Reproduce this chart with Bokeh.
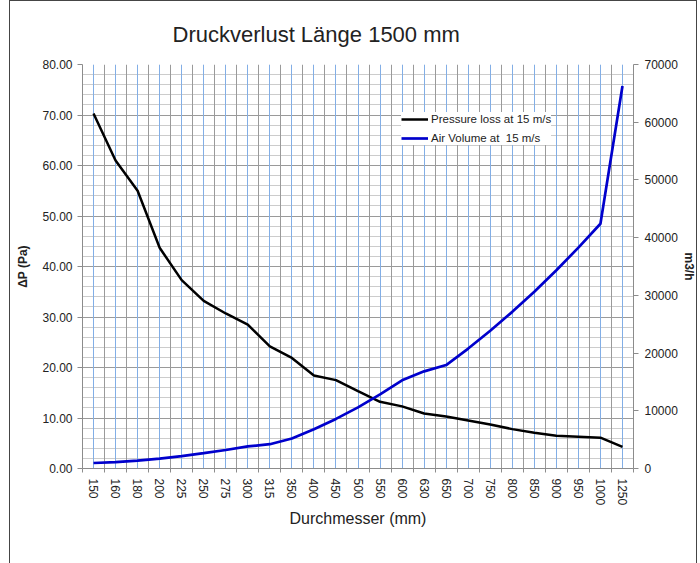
from bokeh.plotting import figure
from bokeh.models import (Range1d, FactorRange, LinearAxis, FixedTicker, SingleIntervalTicker,
                          Grid, NumeralTickFormatter, Title, Legend, LinearScale)
from bokeh.embed import file_html
from bokeh.resources import INLINE

# ---- data ----
diameters = ["150", "160", "180", "200", "225", "250", "275", "300", "315", "350", "400", "450",
             "500", "550", "600", "630", "650", "700", "750", "800", "850", "900", "950", "1000", "1250"]
pressure_loss = [70.3, 61.0, 55.0, 43.7, 37.3, 33.2, 30.7, 28.5, 24.2, 21.9, 18.4, 17.5,
                 15.3, 13.2, 12.3, 10.9, 10.3, 9.5, 8.7, 7.8, 7.1, 6.5, 6.3, 6.1, 4.3]
air_volume = [950, 1090, 1370, 1700, 2150, 2650, 3210, 3820, 4210, 5190, 6790, 8590,
              10600, 12830, 15270, 16830, 17920, 20780, 23860, 27140, 30640, 34350, 38280, 42410, 66270]
left_ticks_interval = 10
right_ticks_interval = 10000
title_text = "Druckverlust Länge 1500 mm"
x_label = "Durchmesser (mm)"
y_label = "ΔP (Pa)"
y2_label = "m3/h"
series_names = ["Pressure loss at 15 m/s", "Air Volume at  15 m/s"]

FONT = "Liberation Sans"
TXT = "#222222"
GRID_MAJOR = "#9a9a9a"
GRID_MINOR = "#cccccc"
GRID_BLUE = "#82aee6"
AXIS = "#8c8c8c"

n = len(diameters)

p = figure(width=688, height=563, x_range=FactorRange(*diameters), y_range=Range1d(0, 80),
           x_axis_location=None, output_backend="svg", toolbar_location=None,
           min_border_left=72, min_border_right=63, min_border_top=63, min_border_bottom=96)
p.margin = (0, 0, 0, 9)
p.styles = {"border-left": "1px solid #454545", "border-top": "1px solid #454545",
            "border-right": "1px solid #454545"}
p.outline_line_color = None
p.background_fill_color = "white"
p.border_fill_color = "white"

p.extra_y_ranges = {"vol": Range1d(0, 70000)}
p.extra_y_scales = {"vol": LinearScale()}

# title
p.title = Title(text=title_text, align="left", offset=90, text_font=FONT, text_font_size="22px",
                text_font_style="normal", text_color=TXT, standoff=35)

# x axis: labels at category centres, tick marks at the category boundaries
centers = [i + 0.5 for i in range(n)]
bounds = list(range(n + 1))
xticker = FixedTicker(ticks=centers, minor_ticks=bounds)
xaxis = LinearAxis(ticker=xticker,
                   major_label_overrides={c: d for c, d in zip(centers, diameters)},
                   major_label_orientation="vertical", major_tick_line_color=None,
                   major_tick_out=4, major_tick_in=0, minor_tick_out=4, minor_tick_in=0,
                   minor_tick_line_color=AXIS, axis_line_color=AXIS, major_label_standoff=6,
                   major_label_text_font=FONT, major_label_text_font_size="12px",
                   major_label_text_color=TXT, axis_label=x_label, axis_label_text_font=FONT,
                   axis_label_text_font_size="16px", axis_label_text_font_style="normal",
                   axis_label_text_color=TXT, axis_label_standoff=2)
p.add_layout(xaxis, "below")

xgrid = Grid(dimension=0, ticker=xticker, grid_line_color=GRID_BLUE,
             grid_line_width=1, minor_grid_line_color=GRID_MAJOR, minor_grid_line_width=1)
p.add_layout(xgrid)

# left axis
yticker = SingleIntervalTicker(interval=left_ticks_interval, num_minor_ticks=5)
ya = p.yaxis[0]
ya.ticker = yticker
ya.formatter = NumeralTickFormatter(format="0.00")
ya.axis_line_color = AXIS
ya.major_tick_line_color = AXIS
ya.major_tick_out = 5
ya.major_tick_in = 0
ya.minor_tick_line_color = None
ya.major_label_standoff = 5
ya.major_label_text_font = FONT
ya.major_label_text_font_size = "12px"
ya.major_label_text_color = TXT
ya.axis_label = y_label
ya.axis_label_text_font = FONT
ya.axis_label_text_font_size = "12px"
ya.axis_label_text_font_style = "bold"
ya.axis_label_text_color = TXT
ya.axis_label_standoff = 9

yg = p.ygrid[0]
yg.ticker = yticker
yg.grid_line_color = GRID_MAJOR
yg.minor_grid_line_color = GRID_MINOR

# right axis
raxis = LinearAxis(y_range_name="vol", ticker=SingleIntervalTicker(interval=right_ticks_interval, num_minor_ticks=0),
                   formatter=NumeralTickFormatter(format="0"), axis_line_color=AXIS,
                   major_tick_line_color=AXIS, major_tick_out=5, major_tick_in=0,
                   minor_tick_line_color=None, major_label_standoff=6,
                   major_label_text_font=FONT, major_label_text_font_size="12px",
                   major_label_text_color=TXT, axis_label=y2_label, axis_label_text_font=FONT,
                   axis_label_text_font_size="12px", axis_label_text_font_style="bold",
                   axis_label_text_color=TXT, axis_label_standoff=1)
p.add_layout(raxis, "right")

# series
r1 = p.line(x=diameters, y=pressure_loss, line_color="black", line_width=2.5)
r2 = p.line(x=diameters, y=air_volume, y_range_name="vol", line_color="#0000cc", line_width=2.7)

legend = Legend(items=[(series_names[0], [r1]), (series_names[1], [r2])],
                location=(319, 323), padding=7, spacing=5, glyph_width=27, glyph_height=14,
                label_height=14, label_standoff=3,
                label_text_font=FONT, label_text_font_size="11.5px", label_text_color=TXT,
                border_line_color=None, background_fill_color="white", background_fill_alpha=1)
p.add_layout(legend, "center")

open("out.html", "w").write(file_html(p, INLINE))
